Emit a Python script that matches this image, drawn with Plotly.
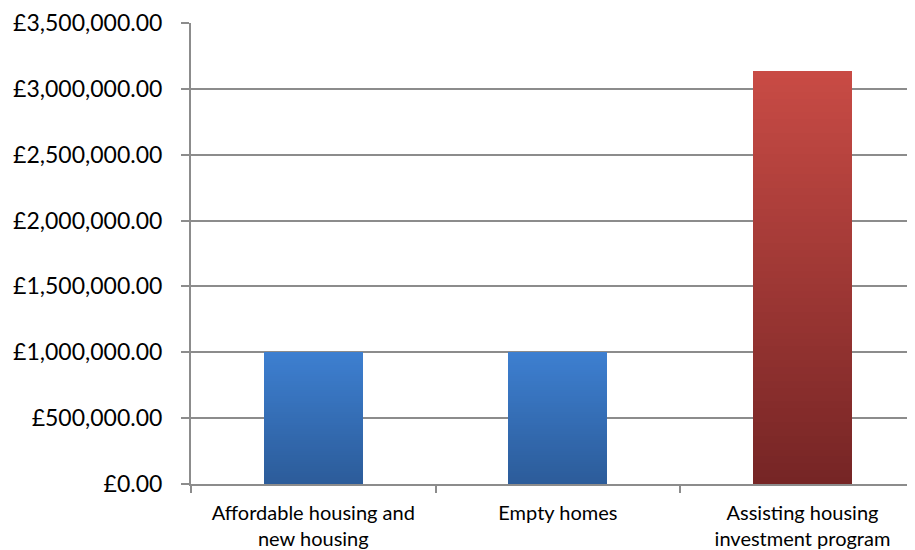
import plotly.graph_objects as go

categories = ["Affordable housing and<br>new housing", "Empty homes", "Assisting housing<br>investment program"]
values = [1000000, 1000000, 3135000]
top_colors = [(61, 127, 208), (61, 127, 208), (200, 75, 69)]
bottom_colors = [(44, 92, 154), (44, 92, 154), (118, 37, 37)]
tick_vals = [0, 500000, 1000000, 1500000, 2000000, 2500000, 3000000, 3500000]
tick_text = ["£0.00", "£500,000.00", "£1,000,000.00", "£1,500,000.00", "£2,000,000.00",
             "£2,500,000.00", "£3,000,000.00", "£3,500,000.00"]

N = 60
fig = go.Figure()
for i in range(N):
    t = i / (N - 1)
    cols = []
    for tc, bc in zip(top_colors, bottom_colors):
        c = tuple(round(b + (a - b) * t) for a, b in zip(tc, bc))
        cols.append("rgb(%d,%d,%d)" % c)
    fig.add_trace(go.Bar(
        x=categories,
        y=[v / N for v in values],
        marker=dict(color=cols, line=dict(width=0)),
        showlegend=False,
        hoverinfo="skip",
    ))

fig.update_layout(
    barmode="stack",
    bargap=0.595,
    width=907, height=542,
    margin=dict(l=183, r=0, t=15, b=64),
    plot_bgcolor="white", paper_bgcolor="white",
    font=dict(family="Lato", color="black"),
)
fig.update_xaxes(
    type="category",
    range=[-0.5, 2.46],
    showgrid=False,
    showline=True, linecolor="#8c8c8c", linewidth=2,
    ticks="outside", tickson="boundaries", ticklen=7, tickcolor="#8c8c8c", tickwidth=2,
    ticklabelstandoff=10,
    tickfont=dict(size=20, family="Lato"),
)
fig.update_yaxes(
    range=[0, 3500000],
    tickvals=tick_vals, ticktext=tick_text,
    showgrid=True, gridcolor="#8c8c8c", gridwidth=2,
    showline=True, linecolor="#8c8c8c", linewidth=2,
    ticks="outside", ticklen=8, tickcolor="#8c8c8c", tickwidth=2,
    ticklabelstandoff=14,
    tickfont=dict(size=23, family="Lato"),
    zeroline=False,
)
fig.write_html("out.html")
